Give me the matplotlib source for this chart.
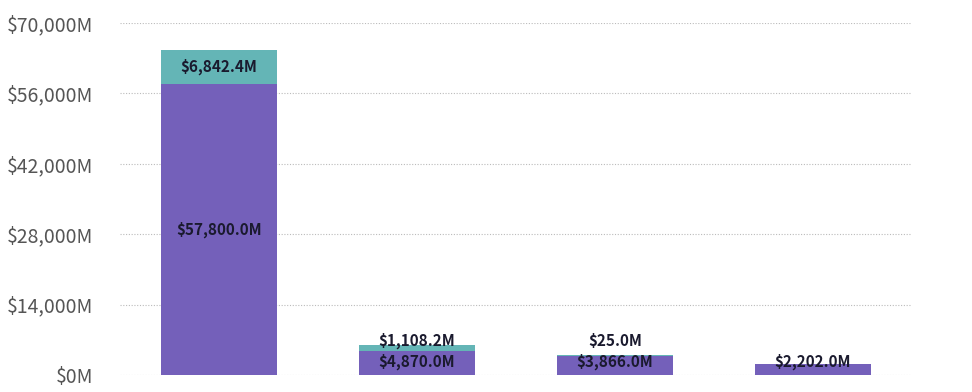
import matplotlib.pyplot as plt
from matplotlib.ticker import FuncFormatter

plt.rcParams['font.family'] = ['Noto Sans CJK SC', 'DejaVu Sans']

categories = ['A', 'B', 'C', 'D']
base = [57800.0, 4870.0, 3866.0, 2202.0]
extra = [6842.4, 1108.2, 25.0, 0.0]

purple = '#7460BA'
teal = '#64B5B6'

fig = plt.figure(figsize=(9.72, 3.92), dpi=100)
ax = fig.add_axes([120 / 972, 17 / 392, 792 / 972, 352 / 392])

x = range(len(categories))
ax.bar(x, base, width=0.585, color=purple, zorder=2)
ax.bar(x, extra, bottom=base, width=0.585, color=teal, zorder=2)

ax.set_xlim(-0.5, len(categories) - 0.5)
ax.set_ylim(0, 70000)
ax.set_yticks(range(0, 70001, 14000))
ax.yaxis.set_major_formatter(FuncFormatter(lambda v, p: '${:,.0f}M'.format(v)))
ax.tick_params(axis='y', length=0, labelsize=14, labelcolor='#555555', pad=19)
ax.set_xticks([])
for s in ax.spines.values():
    s.set_visible(False)
ax.grid(axis='y', linestyle=(0, (1, 1.5)), color='#bbbbbb', linewidth=0.8, zorder=0)

for i in x:
    yb = max(base[i] / 2, 2600)
    ax.text(i, yb, '${:,.1f}M'.format(base[i]), ha='center', va='center',
            fontsize=11, color='#1a1a2e', fontweight='bold', zorder=3)
    if extra[i] > 0:
        yt = max(base[i] + extra[i] / 2, yb + 4200)
        ax.text(i, yt, '${:,.1f}M'.format(extra[i]), ha='center', va='center',
                fontsize=11, color='#1a1a2e', fontweight='bold', zorder=3)

plt.savefig('out.png', dpi=100)
